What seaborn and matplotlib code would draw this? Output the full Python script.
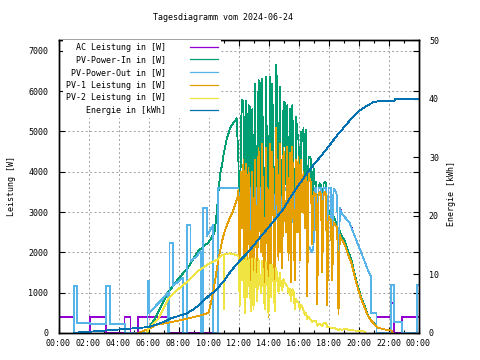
import numpy as np
import pandas as pd
import matplotlib
matplotlib.use('Agg')
import matplotlib.pyplot as plt
from matplotlib.lines import Line2D
from matplotlib.ticker import MultipleLocator
import seaborn as sns

plt.rcParams['font.family'] = 'DejaVu Sans Mono'
plt.rcParams['font.size'] = 6


# DATA (hour of day -> W / kWh)

# 5 minute samples between 12:00 and 18:55 (one row per hour)
day_t = list(12 + np.arange(84) / 12)

# PV-1 Leistung
pv1_morning_t = [5.3, 6.0, 6.5, 7.3, 8.4, 9.5, 10.0, 10.1, 10.25, 10.42, 10.58, 10.75, 10.92, 11.08, 11.25, 11.42, 11.58, 11.75, 11.92]
pv1_morning_w = [0, 100, 200, 255, 340, 440, 500, 650, 900, 1250, 1650, 2000, 2300, 2530, 2700, 2850, 2970, 3150, 3350]
pv1_day_w = [
    3550, 1200, 4000, 2600, 4300, 500, 4200, 1500, 4100, 2300, 600, 4000,
    800, 4300, 2600, 1200, 4600, 3100, 2000, 4700, 1700, 900, 4600, 2500,
    400, 4700, 1500, 4500, 2900, 700, 5080, 3400, 1800, 4700, 2200, 1600,
    4600, 3100, 2500, 4620, 1800, 4460, 1250, 4620, 3200, 1300, 4300, 2500,
    4370, 1800, 4300, 3000, 4000, 2600, 3900, 920, 3960, 3800, 3720, 2200,
    3500, 3400, 3450, 710, 3400, 3500, 3450, 1500, 3400, 3500, 3450, 700,
    2900, 2820, 2800, 1300, 2750, 2700, 2650, 2610, 470, 2440, 2350, 2300,
]
pv1_evening_t = [19.08, 19.3, 19.52, 19.74, 19.97, 20.19, 20.41, 20.63, 20.86, 21.08, 21.3, 21.74, 22.19, 22.3]
pv1_evening_w = [2190, 1950, 1745, 1415, 1085, 835, 630, 420, 300, 215, 130, 90, 60, 0]

# PV-2 Leistung
pv2_morning_t = [5.9, 5.97, 6.63, 7.3, 7.97, 8.63, 9.3, 9.97, 10.63, 10.77, 11.0, 11.03, 11.06, 11.43, 11.88]
pv2_morning_w = [0, 90, 340, 835, 1085, 1290, 1540, 1705, 1830, 1890, 1950, 600, 1955, 1975, 1935]
pv2_day_w = [
    1910, 700, 1900, 1300, 1900, 500, 1880, 900, 1870, 1200, 550, 1850,
    600, 1850, 1300, 800, 1830, 1400, 1000, 1800, 1100, 600, 1760, 1300,
    450, 1700, 900, 1680, 1350, 550, 1620, 1400, 1000, 1500, 1200, 1050,
    1340, 1250, 1200, 1170, 1000, 1100, 800, 1085, 1050, 600, 835, 780,
    750, 600, 695, 650, 560, 450, 500, 340, 400, 340, 320, 280,
    300, 290, 300, 180, 215, 215, 210, 170, 240, 250, 255, 150,
    155, 140, 130, 110, 130, 120, 100, 95, 70, 90, 85, 80,
]
pv2_evening_t = [19.08, 19.5, 19.97, 20.41]
pv2_evening_w = [100, 70, 55, 35]

# PV-Power-In
pin_morning_t = [5.95, 5.97, 6.5, 7.3, 8.0, 8.63, 9.3, 10.0, 10.4, 10.55, 10.7, 10.8, 10.9, 11.0, 11.2, 11.4, 11.55, 11.75, 11.88]
pin_morning_w = [0, 100, 400, 1000, 1350, 1620, 2030, 2250, 2490, 2980, 3650, 4000, 4165, 4415, 4790, 5035, 5160, 5250, 5325]
pin_day_w = [
    4200, 1900, 5200, 5780, 5700, 1000, 5750, 2400, 5650, 5600, 1150, 5550,
    1400, 6190, 3900, 2000, 6270, 6200, 3000, 6300, 2800, 1500, 6360, 3800,
    850, 6360, 2400, 6180, 4250, 1250, 6650, 6110, 2800, 6110, 3400, 2650,
    5730, 5700, 3700, 5650, 2800, 5560, 2050, 5650, 4250, 1900, 5370, 4980,
    4790, 2400, 5000, 4770, 5080, 3050, 5030, 1260, 4360, 4370, 4290, 2480,
    4120, 3690, 3750, 890, 3615, 3715, 3660, 1670, 3720, 3750, 3705, 850,
    3055, 2960, 2930, 1410, 2880, 2820, 2750, 2705, 540, 2530, 2435, 2380,
]
pin_evening_t = [19.08, 19.3, 19.52, 19.74, 19.97, 20.19, 20.41, 20.63, 20.86, 21.08, 21.3]
pin_evening_w = [2290, 2040, 1820, 1480, 1140, 880, 665, 440, 310, 220, 130]

# PV-Power-Out
pout_morning_t = [1.03, 1.03, 1.25, 1.25, 2.08, 2.08, 3.19, 3.19, 3.42, 3.42, 4.45, 4.45, 5.93, 5.93, 6.05, 6.05, 6.5, 7.0, 7.28, 7.3,
                  7.4, 7.4, 7.62, 7.62, 8.3, 8.3, 8.55, 8.55, 8.8, 8.8, 9.2, 9.48, 9.5, 9.65, 9.65, 9.88, 9.88, 10.32, 10.32, 10.62, 10.62, 11.95]
pout_morning_w = [0, 1165, 1165, 255, 255, 215, 215, 1165, 1165, 215, 215, 0, 0, 1300, 1300, 500, 680, 870, 1000, 0,
                  0, 2225, 2225, 1165, 1380, 0, 0, 2670, 2670, 1785, 1900, 2030, 0, 0, 3110, 3110, 2400, 2690, 0, 0, 3600, 3600]
pout_day_w = [
    3600, 1850, 3600, 3600, 3600, 1000, 3600, 2300, 3600, 3600, 1100, 3600,
    1350, 3600, 3600, 1950, 3600, 3600, 2900, 3600, 2700, 1450, 3600, 3600,
    820, 3600, 2350, 3600, 3600, 1200, 3600, 3600, 2700, 3600, 3300, 2550,
    3600, 3600, 3550, 3600, 2700, 3600, 2000, 3600, 3600, 1850, 3600, 3600,
    3600, 2300, 3600, 3600, 3600, 2950, 3600, 2200, 2150, 2100, 2050, 2000,
    2150, 3600, 3600, 860, 3600, 3600, 3600, 1600, 3600, 3600, 3600, 820,
    3600, 3600, 3600, 1360, 3580, 3540, 3480, 3400, 520, 3100, 3025, 2950,
]
pout_evening_t = [19.4, 19.75, 20.1, 20.4, 20.65, 20.83, 20.85, 21.2, 21.2, 22.17, 22.17, 22.35, 22.35, 22.88, 22.88, 23.9, 23.9, 24.0]
pout_evening_w = [2735, 2405, 2075, 1785, 1540, 1415, 500, 500, 0, 0, 1190, 1190, 280, 280, 0, 0, 1190, 1190]

# AC Leistung (during daytime it lies under PV-Power-Out)
ac_morning_t = [0, 1.0, 1.0, 2.12, 2.12, 3.17, 3.17, 4.4, 4.4, 4.8, 4.8, 5.3, 5.3, 7.3, 7.3, 10.62, 10.62, 11.95]
ac_morning_w = [400, 400, 0, 0, 400, 400, 0, 0, 400, 400, 0, 0, 400, 400, 0, 0, 3600, 3600]
ac_day_w = pout_day_w
ac_evening_t = [19.4, 19.75, 20.1, 20.4, 20.65, 20.83, 20.85, 21.2, 21.2, 22.17, 22.17, 22.35, 22.35, 22.88, 22.88, 24.0]
ac_evening_w = [2735, 2405, 2075, 1785, 1540, 1415, 500, 500, 400, 400, 750, 750, 0, 0, 400, 400]

# Energie in kWh (right axis)
energy_t = [1.0, 2.0, 3.0, 4.0, 5.0, 6.0, 6.5, 7.0, 7.5, 8.0, 8.5, 9.0, 9.5, 10.0, 10.5, 11.0, 11.5, 12.0, 12.5, 13.0,
            13.5, 14.0, 14.5, 15.0, 15.5, 16.0, 16.5, 17.0, 17.5, 18.0, 18.5, 19.0, 19.5, 20.0, 20.5, 21.0, 21.5, 22.4, 22.45, 24.0]
energy_kwh = [0.05, 0.2, 0.4, 0.6, 0.8, 1.0, 1.4, 1.9, 2.5, 2.9, 3.3, 4.0, 5.1, 6.3, 7.3, 8.8, 10.6, 12.1, 13.4, 14.9,
              16.5, 18.0, 19.6, 21.2, 23.3, 25.2, 27.0, 28.7, 30.2, 31.8, 33.5, 35.0, 36.5, 37.8, 38.7, 39.4, 39.6, 39.65, 39.9, 39.9]

xtick_labels = ['00:00', '02:00', '04:00', '06:00', '08:00', '10:00', '12:00',
                '14:00', '16:00', '18:00', '20:00', '22:00', '00:00']

labels = ['AC Leistung in [W]', 'PV-Power-In in [W]', 'PV-Power-Out in [W]',
          'PV-1 Leistung in [W]', 'PV-2 Leistung in [W]', 'Energie in [kWh]']
colors = ['#9400D3', '#009E73', '#56B4E9', '#E69F00', '#F0E442', '#0072B2']


def series(m_t, m_w, d_w, e_t, e_w):
    return pd.DataFrame({'t': list(m_t) + day_t + list(e_t),
                         'v': list(m_w) + list(d_w) + list(e_w)})


power = [
    series(ac_morning_t, ac_morning_w, ac_day_w, ac_evening_t, ac_evening_w),
    series(pin_morning_t, pin_morning_w, pin_day_w, pin_evening_t, pin_evening_w),
    series(pout_morning_t, pout_morning_w, pout_day_w, pout_evening_t, pout_evening_w),
    series(pv1_morning_t, pv1_morning_w, pv1_day_w, pv1_evening_t, pv1_evening_w),
    series(pv2_morning_t, pv2_morning_w, pv2_day_w, pv2_evening_t, pv2_evening_w),
]
energy = pd.DataFrame({'t': energy_t, 'v': energy_kwh})


# PLOT
fig = plt.figure(figsize=(4.8, 3.6), dpi=100)
ax = fig.add_axes([58.5 / 480, 27 / 360, 360 / 480, 293 / 360])
ax2 = ax.twinx()

# gnuplot style: 1 px, non antialiased lines
LW = 0.6
for df, c in zip(power, colors[:5]):
    sns.lineplot(data=df, x='t', y='v', ax=ax, color=c, lw=LW, antialiased=False,
                 estimator=None, sort=False, legend=False)
sns.lineplot(data=energy, x='t', y='v', ax=ax2, color=colors[5], lw=LW, antialiased=False,
             estimator=None, sort=False, legend=False)

ax.set_xlim(0, 24)
ax.set_ylim(0, 7270)
ax2.set_ylim(0, 50)

ax.set_xticks(range(0, 25, 2))
ax.set_xticklabels(xtick_labels)
ax.xaxis.set_minor_locator(MultipleLocator(1))
ax.set_yticks(range(0, 7001, 1000))
ax2.set_yticks(range(0, 51, 10))

ax.tick_params(which='both', direction='in', top=True, right=True, width=0.8, labelsize=6)
ax.tick_params(which='major', length=4)
ax.tick_params(which='minor', length=2)
ax.tick_params(axis='y', pad=7.5)
ax.tick_params(axis='x', pad=4.5)
ax2.tick_params(direction='in', length=4, width=0.8, pad=7.5, labelsize=6)

ax.set_xlabel('')
ax.set_ylabel('')
ax2.set_ylabel('')
ax.grid(True, which='major', linestyle=(0, (2, 2.5)), color='#a0a0a0', lw=0.7)
ax.set_axisbelow(True)
for a in (ax, ax2):
    for s in a.spines.values():
        s.set_linewidth(1.0)
        s.set_color('black')

handles = [Line2D([0], [0], color=c, lw=0.9) for c in colors]
leg = ax2.legend(handles, labels, loc='upper right', bbox_to_anchor=(0.45, 1.0),
                 markerfirst=False, frameon=True, fancybox=False, framealpha=1,
                 facecolor='white', edgecolor='none', borderpad=0.3, borderaxespad=0,
                 handlelength=3.36, handletextpad=2.9, labelspacing=0.45, fontsize=6)

fig.text(223 / 480, 1 - 18 / 360, 'Tagesdiagramm vom 2024-06-24', ha='center', va='center', fontsize=6)
fig.text(12 / 480, 1 - 186 / 360, 'Leistung [W]', rotation=90, ha='center', va='center', fontsize=6)
fig.text(452 / 480, 1 - 194 / 360, 'Energie [kWh]', rotation=90, ha='center', va='center', fontsize=6)

fig.savefig('out.png', dpi=100)
